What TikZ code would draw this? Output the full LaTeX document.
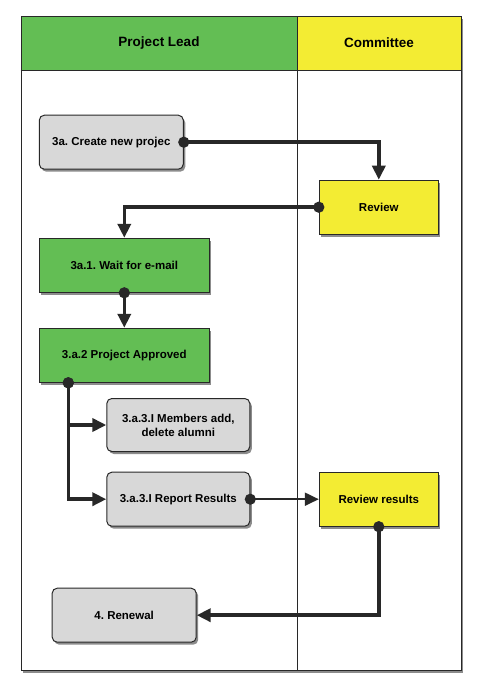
\documentclass[tikz,border=0pt]{standalone}
\usepackage{fontspec}
\setmainfont{Liberation Sans}
\usepackage{xcolor}
\usepackage{tikz}
\usetikzlibrary{arrows.meta,shadows}
\frenchspacing
\definecolor{leadgreen}{RGB}{99,190,84}
\definecolor{comyellow}{RGB}{243,236,51}
\definecolor{stepgray}{RGB}{216,216,216}
\definecolor{edge}{RGB}{40,40,40}
\tikzset{box/.style={draw=edge,line width=1pt,minimum height=54pt,align=center,
    font=\fontsize{11.5}{14}\selectfont\bfseries,
    drop shadow={shadow xshift=2pt,shadow yshift=-2.5pt,opacity=0.45,fill=black}},
  grey/.style={box,fill=stepgray,rounded corners=5pt},
  green/.style={box,fill=leadgreen},
  yellow/.style={box,fill=comyellow},
  lane/.style={font=\fontsize{13.5}{16}\selectfont\bfseries},
  flow/.style={edge,line width=3.5pt,shorten <=-5.5pt,
    {Circle[length=11pt]}-{Triangle[length=14pt,width=13pt]}},
  thinflow/.style={edge,line width=2pt,shorten <=-5.5pt,
    {Circle[length=11pt]}-{Triangle[length=14pt,width=13pt]}}}

\begin{document}
\frenchspacing
\begin{tikzpicture}[x=1pt,y=-1pt]
    \useasboundingbox (0,0) rectangle (481,694);
    % pool
    \draw[edge,fill=white,drop shadow={shadow xshift=2pt,shadow yshift=-3pt,opacity=0.45,fill=black}]
        (20.7,16) rectangle (460.7,670);
    \fill[leadgreen] (20.7,16) rectangle (297.3,70.7);
    \fill[comyellow] (297.3,16) rectangle (460.7,70.7);
    \draw[edge] (20.7,16) rectangle (460.7,670);
    \draw[edge,line width=1.5pt] (20.7,70.7) -- (460.7,70.7);
    \draw[edge] (297.3,16) -- (297.3,670);
    \node[lane] (lead) at (159,43) {Project Lead};
    \node[lane] (com) at (379,43) {Committee};

    % steps
    \node[grey,minimum width=144pt] (create) at (111.3,142.2) {3a. Create new projec};
    \node[yellow,minimum width=119pt] (review) at (378.8,207.2) {Review};
    \node[green,minimum width=170pt] (wait) at (124.3,265.3) {3a.1. Wait for e-mail};
    \node[green,minimum width=170pt] (approved) at (124.3,355.3) {3.a.2 Project Approved};
    \node[grey,minimum width=143pt,minimum height=53pt] (members) at (178.3,425) {3.a.3.I Members add,\\ delete alumni};
    \node[grey,minimum width=143pt] (report) at (178.3,499.2) {3.a.3.I Report Results};
    \node[yellow,minimum width=119pt] (results) at (378.8,499.2) {Review results};
    \node[grey,minimum width=144pt] (renewal) at (124.2,615.2) {4. Renewal};

    % flows
    \draw[flow] (create.east) -| (review.north);
    \draw[flow] (review.west) -| (wait.north);
    \draw[flow] (wait.south) -- (approved.north);
    \draw[flow] ([xshift=-56pt]approved.south) |- (report.west);
    \draw[flow] ([xshift=-56pt]approved.south) |- (members.west);
    \draw[thinflow] (report.east) -- (results.west);
    \draw[flow] (results.south) |- (renewal.east);
\end{tikzpicture}
\end{document}
